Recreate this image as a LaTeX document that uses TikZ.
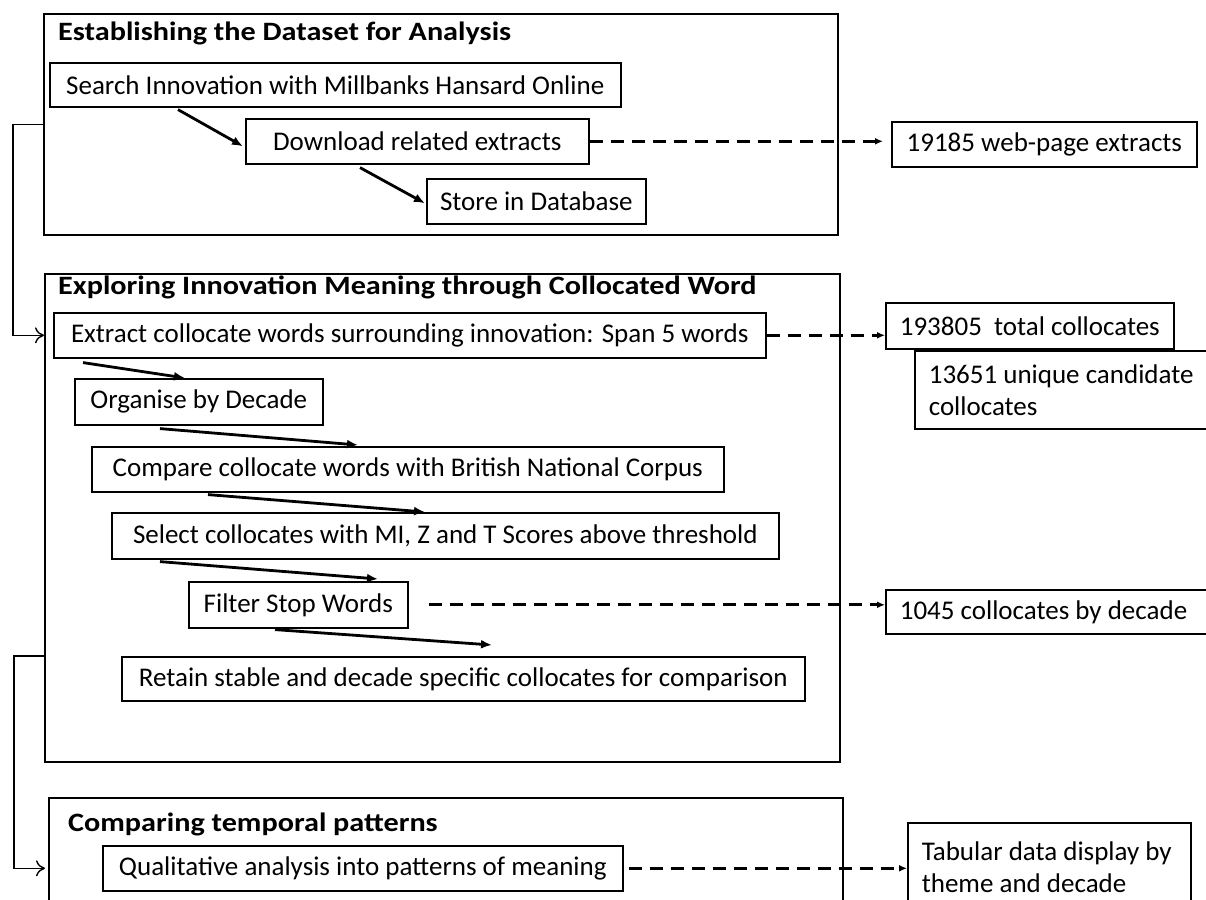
\documentclass[tikz,border=0pt]{standalone}
\usepackage{fontspec}
\setmainfont{Carlito}
\usetikzlibrary{arrows.meta}

% wide bold heading, as in the scanned chart
\newcommand{\widetitle}[1]{\scalebox{1.14}[1]{#1}}

\begin{document}
\begin{tikzpicture}[x=1pt, y=-1pt,
    phasebox/.style={draw, line width=2pt, anchor=north west, inner sep=0pt},
    stepbox/.style={draw, line width=1.6pt, anchor=north west, inner sep=0pt,
      font=\fontsize{27}{32}\selectfont},
    resultbox/.style={stepbox, align=flush left},
    phasetitle/.style={anchor=base west, inner sep=0pt,
      font=\fontsize{26.5}{32}\selectfont\bfseries},
    nextstep/.style={line width=2.8pt, -{Latex[length=11pt,width=9pt]}},
    toresult/.style={line width=2.8pt, dash pattern=on 13pt off 8pt,
      -{Latex[length=8pt,width=7pt]}},
    flow/.style={line width=1.4pt, -{To[length=9pt,width=16pt]}}
  ]
        % Page frame (px units)
        \path[use as bounding box, clip] (0,0) rectangle (1206,899);

        % Phase 1: dataset
        \node[phasebox, minimum width=794pt, minimum height=221pt] (phaseone) at (43,13) {};
        \node[phasetitle] at (58,41) {\widetitle{Establishing the Dataset for Analysis}};
        \node[stepbox, minimum width=571pt, minimum height=44pt] (search) at (49,62)
        {Search Innovation with Millbanks Hansard Online};
        \node[stepbox, minimum width=343pt, minimum height=45pt] (download) at (245,118)
        {Download related extracts};
        \node[stepbox, minimum width=219pt, minimum height=45pt] (store) at (426,178)
        {Store in Database};
        \node[stepbox, minimum width=305pt, minimum height=45pt] (extracts) at (891,121)
        {19185 web-page extracts};

        % Phase 2: collocates
        \node[phasebox, minimum width=795pt, minimum height=488pt] (phasetwo) at (44,273) {};
        \node[phasetitle] at (58,294) {\widetitle{Exploring Innovation Meaning through Collocated Word}};
        \node[stepbox, minimum width=712pt, minimum height=45pt] (extract) at (53,312)
        {Extract collocate words surrounding innovation: Span 5 words};
        \node[stepbox, minimum width=248pt, minimum height=46pt] (organise) at (74,378)
        {Organise by Decade};
        \node[stepbox, minimum width=632pt, minimum height=45pt] (bnc) at (91,446)
        {Compare collocate words with British National Corpus};
        \node[stepbox, minimum width=667pt, minimum height=46pt] (select) at (111,512)
        {Select collocates with MI, Z and T Scores above threshold};
        \node[stepbox, minimum width=219pt, minimum height=46pt] (filter) at (188,581)
        {Filter Stop Words};
        \node[stepbox, minimum width=683pt, minimum height=44pt] (retain) at (121,656)
        {Retain stable and decade specific collocates for comparison};
        \node[stepbox, minimum width=288pt, minimum height=46pt] (total) at (885,302)
        {193805~ total collocates};
        \node[resultbox, text width=280pt, inner xsep=14pt, minimum height=78pt] (unique) at (914,350)
        {13651 unique candidate\\collocates};
        \node[resultbox, text width=302pt, inner xsep=14pt, minimum height=44pt] (bydecade) at (885,589)
        {1045 collocates by decade};

        % Phase 3: patterns
        \node[phasebox, minimum width=794pt, minimum height=150pt] (phasethree) at (48,797) {};
        \node[phasetitle] at (68,831) {\widetitle{Comparing temporal patterns}};
        \node[stepbox, minimum width=520pt, minimum height=45pt] (qual) at (102,845)
        {Qualitative analysis into patterns of meaning};
        \node[resultbox, text width=255pt, inner xsep=14pt, minimum height=88pt] (tabular) at (907,822)
        {Tabular data display by\\theme and decade};

        % Step arrows
        \draw[nextstep] ([xshift=129pt, yshift=-2pt]search.south west) -- ([xshift=-2pt, yshift=-5pt]download.west);
        \draw[nextstep] ([xshift=115pt, yshift=-3pt]download.south west) -- ([xshift=-1pt, yshift=-2pt]store.west);
        \draw[nextstep] ([xshift=30pt, yshift=-4pt]extract.south west) -- ([xshift=111pt]organise.north west);
        \draw[nextstep] ([xshift=86pt, yshift=-3pt]organise.south west) -- ([xshift=267pt, yshift=1pt]bnc.north west);
        \draw[nextstep] ([xshift=117pt, yshift=-2pt]bnc.south west) -- ([xshift=314pt]select.north west);
        \draw[nextstep] ([xshift=49pt, yshift=-2pt]select.south west) -- ([xshift=190pt, yshift=2pt]filter.north west);
        \draw[nextstep] ([xshift=87pt, yshift=-1pt]filter.south west) -- ([xshift=371pt, yshift=11pt]retain.north west);

        % Dashed links to results
        \draw[toresult, shorten >=8pt] (download.east) -- (download.east -| extracts.west);
        \draw[toresult] (extract.east) -- (extract.east -| total.west);
        \draw[toresult] ([xshift=20pt]filter.east) -- (filter.east -| bydecade.west);
        \draw[toresult] ([xshift=5pt]qual.east) -- (qual.east -| tabular.west);

        % Phase connectors
        \draw[flow] (phaseone.west) -- ++(-30,0) |- (phasetwo.west |- extract.west);
        \draw[flow, shorten >=3pt] (phasetwo.west |- retain.north) -- ++(-30,0) |- (phasethree.west |- qual.west);

      \end{tikzpicture}
\end{document}
